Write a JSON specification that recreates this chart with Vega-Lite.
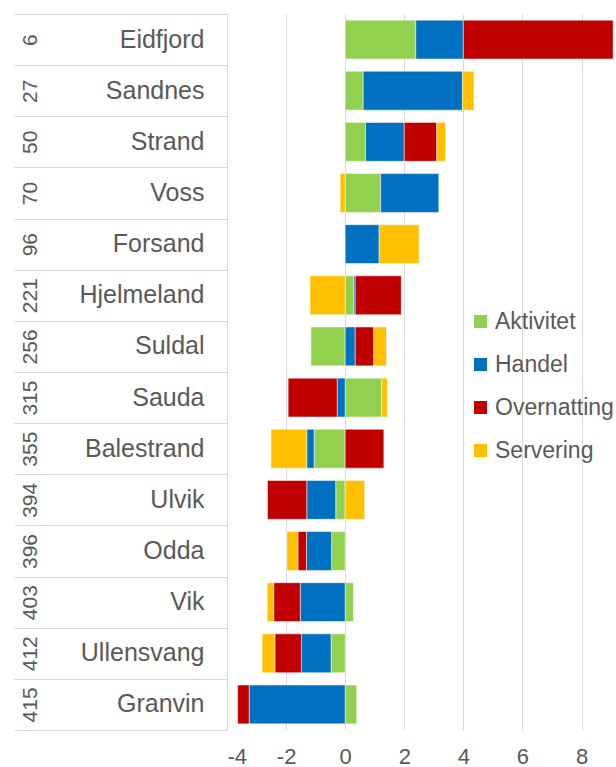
{
  "$schema": "https://vega.github.io/schema/vega-lite/v6.json",
  "width": 387,
  "height": 716,
  "autosize": {"type": "none"},
  "padding": {"left": 227, "top": 14, "right": 2, "bottom": 37},
  "data": {
    "values": [
      {"rank": 6, "name": "Eidfjord", "category": "Aktivitet", "value": 2.39},
      {"rank": 6, "name": "Eidfjord", "category": "Handel", "value": 1.61},
      {"rank": 6, "name": "Eidfjord", "category": "Overnatting", "value": 5.07},
      {"rank": 27, "name": "Sandnes", "category": "Aktivitet", "value": 0.61},
      {"rank": 27, "name": "Sandnes", "category": "Handel", "value": 3.36},
      {"rank": 27, "name": "Sandnes", "category": "Servering", "value": 0.39},
      {"rank": 50, "name": "Strand", "category": "Aktivitet", "value": 0.69},
      {"rank": 50, "name": "Strand", "category": "Handel", "value": 1.31},
      {"rank": 50, "name": "Strand", "category": "Overnatting", "value": 1.10},
      {"rank": 50, "name": "Strand", "category": "Servering", "value": 0.30},
      {"rank": 70, "name": "Voss", "category": "Aktivitet", "value": 1.20},
      {"rank": 70, "name": "Voss", "category": "Handel", "value": 1.97},
      {"rank": 70, "name": "Voss", "category": "Servering", "value": -0.17},
      {"rank": 96, "name": "Forsand", "category": "Handel", "value": 1.15},
      {"rank": 96, "name": "Forsand", "category": "Servering", "value": 1.35},
      {"rank": 221, "name": "Hjelmeland", "category": "Aktivitet", "value": 0.29},
      {"rank": 221, "name": "Hjelmeland", "category": "Handel", "value": 0.05},
      {"rank": 221, "name": "Hjelmeland", "category": "Overnatting", "value": 1.56},
      {"rank": 221, "name": "Hjelmeland", "category": "Servering", "value": -1.19},
      {"rank": 256, "name": "Suldal", "category": "Aktivitet", "value": -1.16},
      {"rank": 256, "name": "Suldal", "category": "Handel", "value": 0.34},
      {"rank": 256, "name": "Suldal", "category": "Overnatting", "value": 0.63},
      {"rank": 256, "name": "Suldal", "category": "Servering", "value": 0.43},
      {"rank": 315, "name": "Sauda", "category": "Aktivitet", "value": 1.24},
      {"rank": 315, "name": "Sauda", "category": "Handel", "value": -0.27},
      {"rank": 315, "name": "Sauda", "category": "Overnatting", "value": -1.66},
      {"rank": 315, "name": "Sauda", "category": "Servering", "value": 0.19},
      {"rank": 355, "name": "Balestrand", "category": "Aktivitet", "value": -1.05},
      {"rank": 355, "name": "Balestrand", "category": "Handel", "value": -0.25},
      {"rank": 355, "name": "Balestrand", "category": "Overnatting", "value": 1.31},
      {"rank": 355, "name": "Balestrand", "category": "Servering", "value": -1.21},
      {"rank": 394, "name": "Ulvik", "category": "Aktivitet", "value": -0.32},
      {"rank": 394, "name": "Ulvik", "category": "Handel", "value": -0.98},
      {"rank": 394, "name": "Ulvik", "category": "Overnatting", "value": -1.33},
      {"rank": 394, "name": "Ulvik", "category": "Servering", "value": 0.66},
      {"rank": 396, "name": "Odda", "category": "Aktivitet", "value": -0.46},
      {"rank": 396, "name": "Odda", "category": "Handel", "value": -0.85},
      {"rank": 396, "name": "Odda", "category": "Overnatting", "value": -0.29},
      {"rank": 396, "name": "Odda", "category": "Servering", "value": -0.37},
      {"rank": 403, "name": "Vik", "category": "Aktivitet", "value": 0.28},
      {"rank": 403, "name": "Vik", "category": "Handel", "value": -1.52},
      {"rank": 403, "name": "Vik", "category": "Overnatting", "value": -0.90},
      {"rank": 403, "name": "Vik", "category": "Servering", "value": -0.22},
      {"rank": 412, "name": "Ullensvang", "category": "Aktivitet", "value": -0.48},
      {"rank": 412, "name": "Ullensvang", "category": "Handel", "value": -1.00},
      {"rank": 412, "name": "Ullensvang", "category": "Overnatting", "value": -0.90},
      {"rank": 412, "name": "Ullensvang", "category": "Servering", "value": -0.43},
      {"rank": 415, "name": "Granvin", "category": "Aktivitet", "value": 0.39},
      {"rank": 415, "name": "Granvin", "category": "Handel", "value": -3.25},
      {"rank": 415, "name": "Granvin", "category": "Overnatting", "value": -0.39}
    ]
  },
  "config": {
    "view": {"stroke": null},
    "font": "Liberation Sans",
    "axis": {"labelFont": "Liberation Sans", "labelColor": "#595959"}
  },
  "layer": [
    {
      "mark": {"type": "bar", "stroke": "#ffffff", "strokeWidth": 0.5},
      "encoding": {
        "y": {
          "field": "name",
          "type": "nominal",
          "sort": {"field": "rank", "op": "min", "order": "ascending"},
          "scale": {"paddingInner": 0.24, "paddingOuter": 0.12},
          "axis": {
            "orient": "left",
            "title": null,
            "ticks": false,
            "domainColor": "#d9d9d9",
            "domainWidth": 1,
            "labelPadding": 23,
            "labelFontSize": 25,
            "labelAlign": "right",
            "labelColor": "#595959"
          }
        },
        "x": {
          "field": "value",
          "type": "quantitative",
          "stack": "zero",
          "scale": {"domain": [-4, 9.1], "nice": false, "zero": false},
          "axis": {
            "title": null,
            "values": [-4, -2, 0, 2, 4, 6, 8],
            "labelExpr": "datum.value < 0 ? '-' + abs(datum.value) : '' + datum.value",
            "grid": true,
            "gridColor": "#d9d9d9",
            "gridWidth": 1,
            "domain": false,
            "ticks": false,
            "labelFontSize": 22,
            "labelPadding": 16,
            "labelColor": "#595959"
          }
        },
        "color": {
          "field": "category",
          "type": "nominal",
          "scale": {
            "domain": ["Aktivitet", "Handel", "Overnatting", "Servering"],
            "range": ["#92D050", "#0070C0", "#C00000", "#FFC000"]
          },
          "legend": {
            "title": null,
            "orient": "none",
            "legendX": 242,
            "legendY": 296,
            "symbolType": "square",
            "symbolSize": 169,
            "symbolStrokeWidth": 0,
            "labelFontSize": 23,
            "labelColor": "#595959",
            "labelFont": "Liberation Sans",
            "rowPadding": 19,
            "labelOffset": 3,
            "padding": 0
          }
        }
      }
    },
    {
      "mark": {"type": "text", "text": ""},
      "encoding": {
        "y": {
          "field": "rank",
          "type": "ordinal",
          "scale": {"type": "band", "paddingInner": 0, "paddingOuter": 0},
          "axis": {
            "orient": "left",
            "title": null,
            "tickSize": 213,
            "tickColor": "#d9d9d9",
            "tickWidth": 1,
            "tickBand": "extent",
            "domain": false,
            "labelAngle": 270,
            "labelAlign": "center",
            "labelBaseline": "alphabetic",
            "labelPadding": -22,
            "labelFontSize": 21,
            "labelColor": "#595959",
            "labelOverlap": false
          }
        }
      }
    }
  ],
  "resolve": {"scale": {"y": "independent"}}
}
